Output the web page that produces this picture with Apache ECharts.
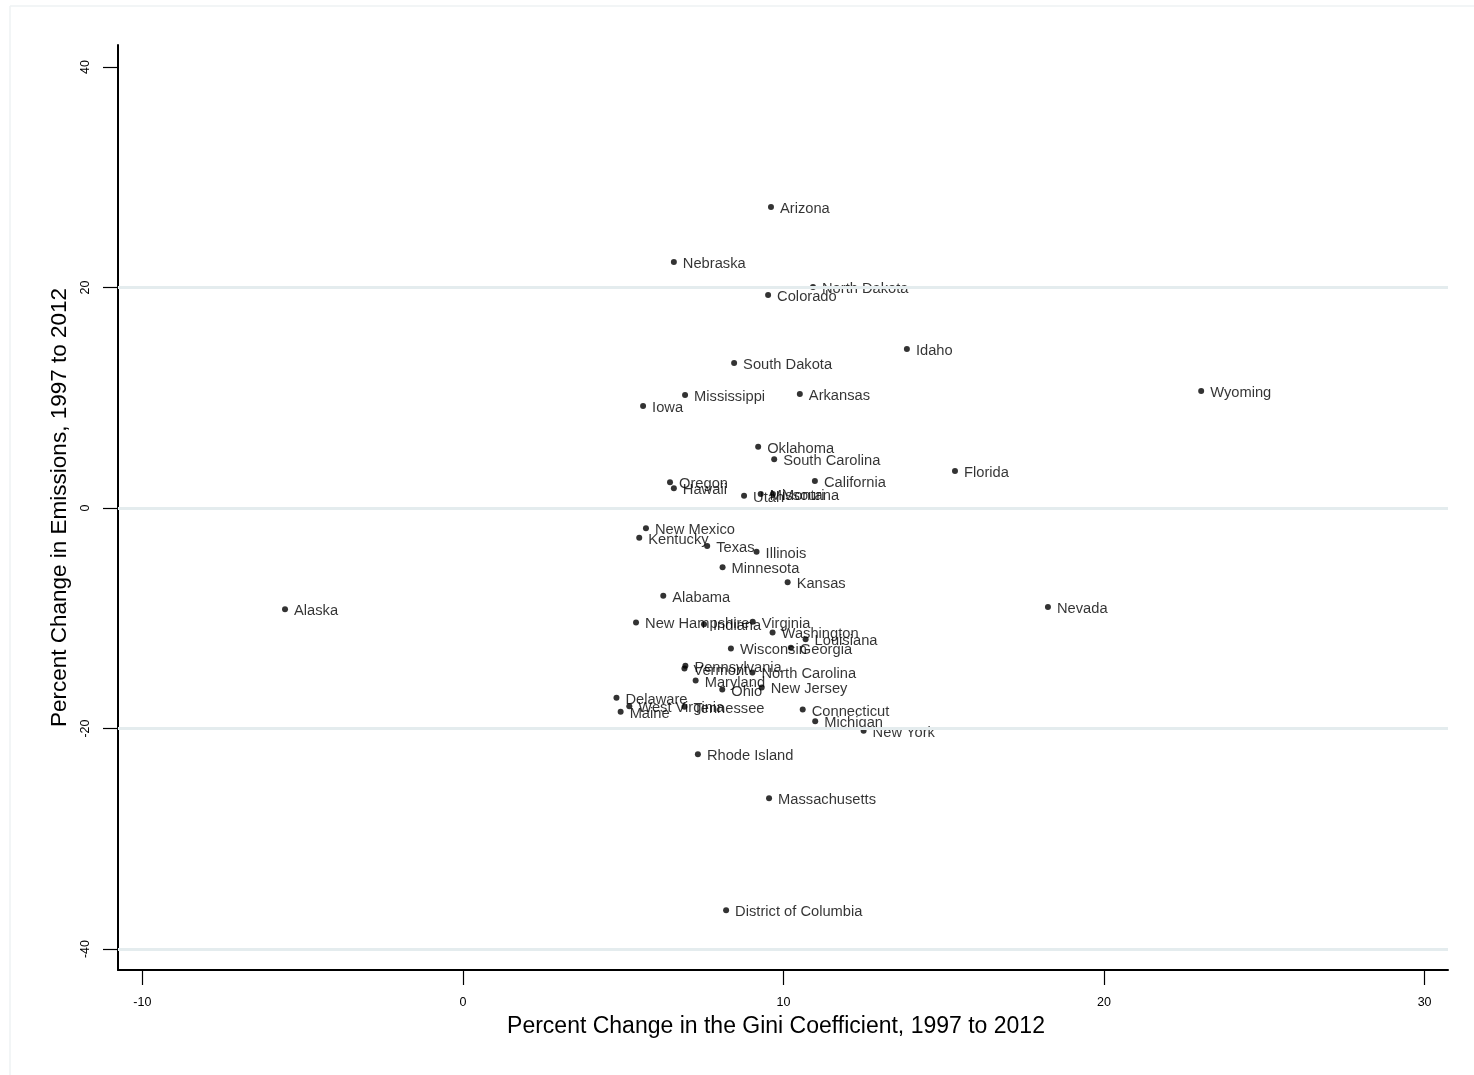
<!DOCTYPE html>
<html>
<head>
<meta charset="utf-8">
<title>Gini Coefficient vs Emissions by State</title>
<script src="https://cdn.jsdelivr.net/npm/echarts@6/dist/echarts.min.js"></script>
<style>
  html, body { margin: 0; padding: 0; background: #ffffff; }
  #chart { width: 1474px; height: 1075px; }
</style>
</head>
<body>
<div id="chart"></div>
<script>
// State names and their percent changes, 1997 to 2012
const states = [
  'Arizona', 'Nebraska', 'North Dakota', 'Colorado', 'Idaho', 'South Dakota',
  'Wyoming', 'Mississippi', 'Arkansas', 'Iowa', 'Oklahoma', 'South Carolina',
  'California', 'Florida', 'Oregon', 'Hawaii', 'Utah', 'Missouri', 'Montana',
  'New Mexico', 'Kentucky', 'Texas', 'Illinois', 'Minnesota', 'Kansas',
  'Alabama', 'Alaska', 'Nevada', 'New Hampshire', 'Indiana', 'Virginia',
  'Washington', 'Louisiana', 'Wisconsin', 'Georgia', 'Pennsylvania', 'Vermont',
  'North Carolina', 'Maryland', 'Ohio', 'New Jersey', 'Delaware',
  'West Virginia', 'Maine', 'Tennessee', 'Connecticut', 'Michigan', 'New York',
  'Rhode Island', 'Massachusetts', 'District of Columbia'
];

// Percent change in the Gini coefficient
const giniChange = [
  9.61, 6.58, 10.92, 9.52, 13.85, 8.46,
  23.03, 6.93, 10.51, 5.62, 9.21, 9.71,
  10.98, 15.35, 6.46, 6.58, 8.77, 9.29, 9.67,
  5.71, 5.50, 7.62, 9.16, 8.10, 10.13,
  6.25, -5.55, 18.25, 5.40, 7.52, 9.04,
  9.66, 10.69, 8.36, 10.23, 6.94, 6.91,
  9.03, 7.26, 8.09, 9.32, 4.79,
  5.19, 4.92, 6.91, 10.60, 10.99, 12.50,
  7.33, 9.55, 8.21
];

// Percent change in emissions
const emissionsChange = [
  27.31, 22.32, 20.05, 19.33, 14.43, 13.16,
  10.62, 10.25, 10.34, 9.26, 5.56, 4.42,
  2.45, 3.36, 2.33, 1.79, 1.12, 1.27, 1.27,
  -1.84, -2.69, -3.45, -3.96, -5.38, -6.74,
  -7.96, -9.17, -8.98, -10.37, -10.53, -10.31,
  -11.28, -11.89, -12.73, -12.68, -14.31, -14.55,
  -14.91, -15.64, -16.46, -16.27, -17.21,
  -17.97, -18.48, -18.03, -18.27, -19.33, -20.21,
  -22.32, -26.32, -36.48
];

// Axis ticks and horizontal reference lines
const xTicks = [-10, 0, 10, 20, 30];
const yTicks = [-40, -20, 0, 20, 40];
const yGridLines = [-40, -20, 0, 20];

const FONT = "'Liberation Sans', Arial, Helvetica, sans-serif";

const points = states.map((name, i) => ({
  name: name,
  value: [giniChange[i], emissionsChange[i]]
}));

const chart = echarts.init(document.getElementById('chart'), null, { renderer: 'canvas' });

chart.setOption({
  backgroundColor: '#ffffff',
  animation: false,
  graphic: [
    // faint outer frame edges
    { type: 'line', shape: { x1: 10, y1: 6, x2: 1474, y2: 6 }, style: { stroke: '#eef2f3', lineWidth: 1.5 }, silent: true },
    { type: 'line', shape: { x1: 10, y1: 6, x2: 10, y2: 1075 }, style: { stroke: '#eef2f3', lineWidth: 1.5 }, silent: true }
  ],
  grid: { left: 118, right: 26, top: 45, bottom: 105, containLabel: false },
  xAxis: {
    type: 'value',
    min: -10.76,
    max: 30.73,
    name: 'Percent Change in the Gini Coefficient, 1997 to 2012',
    nameLocation: 'middle',
    nameGap: 45,
    nameTextStyle: { fontFamily: FONT, fontSize: 23, color: '#000', padding: [0, 14, 0, 0] },
    axisLine: { show: true, onZero: false, lineStyle: { color: '#000', width: 2 } },
    axisTick: { show: true, inside: false, length: 15, customValues: xTicks, lineStyle: { color: '#000', width: 1.2 } },
    axisLabel: { customValues: xTicks, margin: 26, fontFamily: FONT, fontSize: 12.5, color: '#000' },
    splitLine: { show: false }
  },
  yAxis: {
    type: 'value',
    min: -41.9,
    max: 42.0,
    name: 'Percent Change in Emissions, 1997 to 2012',
    nameLocation: 'middle',
    nameGap: 40,
    nameRotate: 90,
    nameTextStyle: { fontFamily: FONT, fontSize: 22.5, color: '#000' },
    axisLine: { show: true, onZero: false, lineStyle: { color: '#000', width: 2 } },
    axisTick: { show: true, inside: false, length: 15, customValues: yTicks, lineStyle: { color: '#000', width: 1.2 } },
    axisLabel: { customValues: yTicks, rotate: 90, margin: 26, fontFamily: FONT, fontSize: 12.5, color: '#000' },
    splitLine: { show: false }
  },
  series: [
    {
      // horizontal reference lines, kept beneath the points and labels
      type: 'scatter',
      data: [],
      silent: true,
      z: 1,
      markLine: {
        silent: true,
        symbol: 'none',
        label: { show: false },
        lineStyle: { color: '#e4ecee', width: 3, type: 'solid' },
        data: yGridLines.map(v => ({ yAxis: v }))
      }
    },
    {
      type: 'scatter',
      data: points,
      symbol: 'circle',
      symbolSize: 6,
      itemStyle: { color: '#000' },
      label: {
        show: true,
        position: 'right',
        distance: 6,
        offset: [0, 2],
        formatter: '{b}',
        fontFamily: FONT,
        fontSize: 14.7,
        color: '#000'
      },
      z: 3
    }
  ]
});
</script>
</body>
</html>
